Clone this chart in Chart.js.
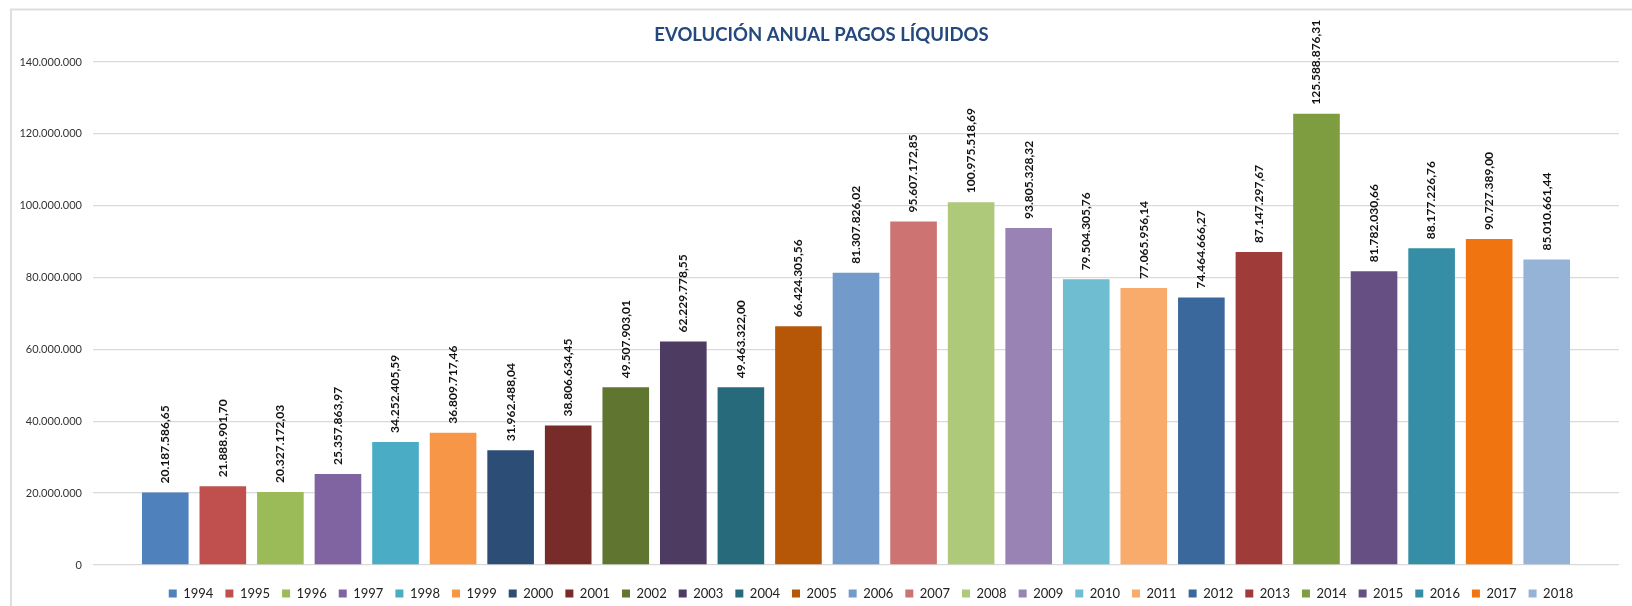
<!DOCTYPE html>
<html>
<head>
<meta charset="utf-8">
<title>Evolución anual pagos líquidos</title>
<script src="https://cdn.jsdelivr.net/npm/chart.js@4/dist/chart.umd.min.js"></script>
<style>
  html, body { margin: 0; padding: 0; background: #fff; }
  #wrap { width: 1632px; height: 606px; position: relative; }
</style>
</head>
<body>
<div id="wrap"><canvas id="graph-pagos"></canvas></div>
<script>
// Datos del gráfico
const anios = ['1994', '1995', '1996', '1997', '1998', '1999', '2000', '2001', '2002', '2003', '2004', '2005',
  '2006', '2007', '2008', '2009', '2010', '2011', '2012', '2013', '2014', '2015', '2016', '2017', '2018'];

const pagosLiquidos = [20187586.65, 21888901.70, 20327172.03, 25357863.97, 34252405.59, 36809717.46,
  31962488.04, 38806634.45, 49507903.01, 62229778.55, 49463322.00, 66424305.56, 81307826.02,
  95607172.85, 100975518.69, 93805328.32, 79504305.76, 77065956.14, 74464666.27, 87147297.67,
  125588876.31, 81782030.66, 88177226.76, 90727389.00, 85010661.44];

const colores = ['#4F81BD', '#C0504D', '#9BBB59', '#8064A2', '#4BACC6', '#F79646', '#2C4D75', '#772C2A',
  '#5F7530', '#4D3B62', '#276A7C', '#B65708', '#729ACA', '#CD7371', '#AFC97A', '#9983B5', '#6FBDD1',
  '#F9AB6B', '#3A679C', '#9F3B38', '#7E9D40', '#664F83', '#358EA6', '#F07510', '#95B3D7'];

const ejeY = { min: 0, max: 140000000, paso: 20000000 };

// formato español: 1.234.567,89
function formatoMiles(valor, decimales) {
  const partes = valor.toFixed(decimales).split('.');
  const entero = partes[0].replace(/\B(?=(\d{3})+(?!\d))/g, '.');
  return partes.length > 1 ? entero + ',' + partes[1] : entero;
}

// borde gris del gráfico (arriba e izquierda)
const bordeGrafico = {
  id: 'bordeGrafico',
  beforeDraw(chart) {
    const ctx = chart.ctx;
    ctx.save();
    ctx.strokeStyle = '#dedede';
    ctx.lineWidth = 2;
    ctx.beginPath();
    ctx.moveTo(chart.width, 9.5);
    ctx.lineTo(11, 9.5);
    ctx.lineTo(11, chart.height);
    ctx.stroke();
    ctx.restore();
  }
};

// la leyenda y el título de Excel quedan un poco más a la derecha
const ajustarBloques = {
  id: 'ajustarBloques',
  afterLayout(chart) {
    const leyenda = chart.legend;
    if (leyenda) {
      leyenda.left += 15;
      leyenda.right += 15;
      leyenda.top += 10;
      leyenda.bottom += 10;
    }
    const titulo = chart.titleBlock;
    if (titulo) {
      titulo.left += 12;
      titulo.right += 12;
    }
  }
};

// etiquetas verticales encima de cada barra
const etiquetasBarras = {
  id: 'etiquetasBarras',
  afterDatasetsDraw(chart) {
    const ctx = chart.ctx;
    ctx.save();
    ctx.font = 'bold 12px Lato, sans-serif';
    ctx.fillStyle = '#111';
    ctx.textAlign = 'left';
    ctx.textBaseline = 'middle';
    chart.data.datasets.forEach((ds, i) => {
      const meta = chart.getDatasetMeta(i);
      if (meta.hidden) return;
      const bar = meta.data[0];
      ctx.save();
      ctx.translate(bar.x, bar.y - 9);
      ctx.rotate(-Math.PI / 2);
      ctx.fillText(formatoMiles(ds.data[0], 2), 0, 0);
      ctx.restore();
    });
    ctx.restore();
  }
};

const datasets = anios.map((anio, i) => ({
  label: anio,
  data: [pagosLiquidos[i]],
  backgroundColor: colores[i],
  borderWidth: 0,
  categoryPercentage: 0.943,
  barPercentage: 0.81
}));

const ctx = document.getElementById('graph-pagos').getContext('2d');
window.pagosChart = new Chart(ctx, {
  type: 'bar',
  data: {
    labels: [''],
    datasets: datasets
  },
  options: {
    responsive: true,
    maintainAspectRatio: false,
    animation: false,
    layout: {
      padding: { top: 10, left: 0, right: 13, bottom: 6 }
    },
    plugins: {
      title: {
        display: true,
        text: 'EVOLUCIÓN ANUAL PAGOS LÍQUIDOS',
        color: '#24497D',
        font: { family: 'Lato, sans-serif', size: 18.5, weight: 'bold' },
        padding: { top: 14, bottom: 15.8 }
      },
      legend: {
        position: 'bottom',
        fullSize: false,
        labels: {
          boxWidth: 8,
          boxHeight: 8,
          padding: 12,
          color: '#222',
          font: { family: 'Lato, sans-serif', size: 13 }
        }
      },
      tooltip: { enabled: false }
    },
    scales: {
      x: {
        display: false
      },
      y: {
        min: ejeY.min,
        max: ejeY.max,
        afterFit: function(scale) {
          scale.width = 93;
        },
        ticks: {
          stepSize: ejeY.paso,
          padding: 11,
          color: '#333',
          font: { family: 'Lato, sans-serif', size: 11 },
          callback: function(value) {
            return formatoMiles(value, 0);
          }
        },
        grid: {
          color: '#d9d9d9',
          lineWidth: 1.3,
          drawTicks: false
        },
        border: { display: false }
      }
    }
  },
  plugins: [bordeGrafico, ajustarBloques, etiquetasBarras]
});
</script>
</body>
</html>
